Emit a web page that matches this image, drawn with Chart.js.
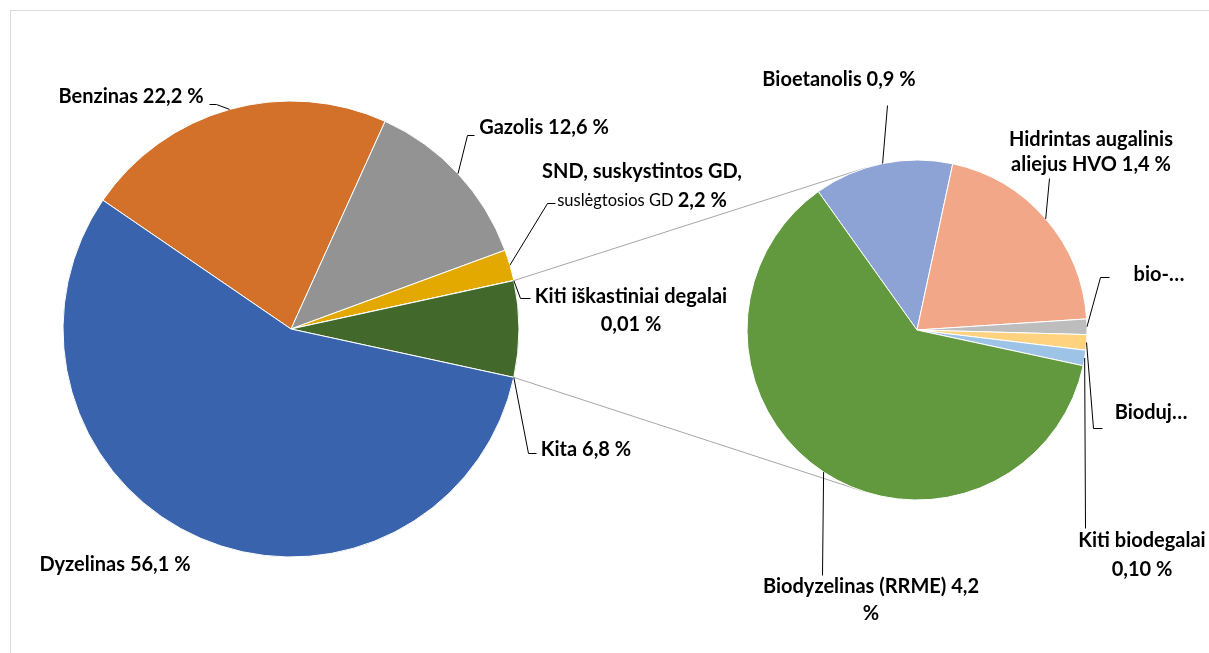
<!DOCTYPE html>
<html><head><meta charset="utf-8">
<script src="https://cdn.jsdelivr.net/npm/chart.js@4.4.0/dist/chart.umd.min.js"></script>
<style>
html,body{margin:0;padding:0;background:#fff;}
#wrap{position:relative;width:1209px;height:653px;overflow:hidden;background:#fff;}
#frame{position:absolute;left:10px;top:10px;width:1300px;height:700px;border:1px solid #D9D9D9;}
canvas{position:absolute;left:0;top:0;}
</style></head><body>
<div id="wrap"><div id="frame"></div>
<canvas id="c1" width="1209" height="653"></canvas>
<canvas id="c2" width="1209" height="653"></canvas>
</div>
<script>
// ---------- DATA ----------
const mainCategories = ['Benzinas', 'Gazolis', 'SND, suskystintos GD, suslėgtosios GD', 'Kiti iškastiniai degalai', 'Kita', 'Dyzelinas'];
const mainValues = [22.2, 12.6, 2.2, 0.01, 6.8, 56.1];
const subCategories = ['Bioetanolis', 'Hidrintas augalinis aliejus HVO', 'bio-...', 'Biodujos', 'Kiti biodegalai', 'Biodyzelinas (RRME)'];
const subValues = [0.9, 1.4, 0.1, 0.1, 0.1, 4.2];

// ---------- STYLE / LAYOUT ----------
const mainColors = ['#D3702A', '#939393', '#E3A900', '#264478', '#43682B', '#3A63AD'];
const subColors = ['#8EA3D5', '#F1A788', '#BDBDBD', '#FFD27F', '#9DC3E6', '#62993E'];
const FONT = 'Lato, "Open Sans", sans-serif';
const BOLD = '700 20px ' + FONT;
const REG = '400 16.5px ' + FONT;
const fmt = (v, d) => v.toFixed(d).replace('.', ',');

const mainLabels = [
  {lines: [[{t: 'Benzinas ' + fmt(mainValues[0], 1) + ' %', f: BOLD}]], x: 131, y: 97, anchor: 'mid', path: [[216, 104], [209, 104]]},
  {lines: [[{t: 'Gazolis ' + fmt(mainValues[1], 1) + ' %', f: BOLD}]], x: 544, y: 128, anchor: 'mid', path: [[467, 135], [474, 135]]},
  {lines: [[{t: 'SND, suskystintos GD,', f: BOLD}], [{t: 'suslėgtosios GD ', f: REG}, {t: fmt(mainValues[2], 1) + ' %', f: BOLD}]], x: 642, y: 172, lh: 29, anchor: 'mid', path: [[547, 203], [555, 203]]},
  {lines: [[{t: 'Kiti iškastiniai degalai', f: BOLD}], [{t: fmt(mainValues[3], 2) + ' %', f: BOLD}]], x: 631, y: 297, lh: 28, anchor: 'mid', path: [[520, 298], [530, 298]]},
  {lines: [[{t: 'Kita ' + fmt(mainValues[4], 1) + ' %', f: BOLD}]], x: 586, y: 450, anchor: 'end', path: [[528, 453], [536, 453]]},
  {lines: [[{t: 'Dyzelinas ' + fmt(mainValues[5], 1) + ' %', f: BOLD}]], x: 115, y: 565, anchor: null, path: []}
];
const subLabels = [
  {lines: [[{t: 'Bioetanolis ' + fmt(subValues[0], 1) + ' %', f: BOLD}]], x: 839, y: 80, anchor: 'mid', path: [[887, 105]]},
  {lines: [[{t: 'Hidrintas augalinis', f: BOLD}], [{t: 'aliejus HVO ' + fmt(subValues[1], 1) + ' %', f: BOLD}]], x: 1091, y: 140, lh: 25, anchor: 'mid', path: [[1049, 178]]},
  {lines: [[{t: 'bio-…', f: BOLD}]], x: 1159, y: 275, anchor: 'mid', path: [[1100, 277], [1109, 277]]},
  {lines: [[{t: 'Bioduj…', f: BOLD}]], x: 1151, y: 413, anchor: 'mid', path: [[1093, 428], [1102, 428]]},
  {lines: [[{t: 'Kiti biodegalai', f: BOLD}], [{t: fmt(subValues[4], 2) + ' %', f: BOLD}]], x: 1142, y: 541, lh: 29, anchor: 'mid', path: [[1085, 528]]},
  {lines: [[{t: 'Biodyzelinas (RRME) ' + fmt(subValues[5], 1), f: BOLD}], [{t: '%', f: BOLD}]], x: 871, y: 587, lh: 27, anchor: 'mid', path: [[822, 575]]}
];

const W = 1209, H = 653;
function padFor(cx, cy, r) {
  return {left: cx - r, right: W - cx - r, top: cy - r, bottom: H - cy - r};
}

function drawLabels(chart, labels) {
  const ctx = chart.ctx;
  const meta = chart.getDatasetMeta(0);
  ctx.save();
  ctx.strokeStyle = '#000';
  ctx.lineWidth = 1;
  labels.forEach((L, i) => {
    const arc = meta.data[i];
    if (L.anchor && L.path.length) {
      const a = L.anchor === 'mid' ? (arc.startAngle + arc.endAngle) / 2 : (L.anchor === 'end' ? arc.endAngle : arc.startAngle);
      const ax = arc.x + Math.cos(a) * arc.outerRadius;
      const ay = arc.y + Math.sin(a) * arc.outerRadius;
      ctx.beginPath();
      ctx.moveTo(ax, ay);
      L.path.forEach(p => ctx.lineTo(p[0] + 0.5, p[1] + 0.5));
      ctx.stroke();
    }
    ctx.fillStyle = '#000';
    ctx.textBaseline = 'middle';
    ctx.textAlign = 'left';
    L.lines.forEach((segs, li) => {
      let tw = 0;
      segs.forEach(s => { ctx.font = s.f; tw += ctx.measureText(s.t).width; });
      let x = L.x - tw / 2;
      const y = L.y + li * (L.lh || 0);
      segs.forEach(s => { ctx.font = s.f; ctx.fillText(s.t, x, y); x += ctx.measureText(s.t).width; });
    });
  });
  ctx.restore();
}

function rotationFor(values, idx) {
  const total = values.reduce((a, b) => a + b, 0);
  let cum = 0;
  for (let i = 0; i < idx; i++) cum += values[i];
  cum += values[idx] / 2;
  return 90 - cum / total * 360;
}

const c1 = new Chart(document.getElementById('c1'), {
  type: 'pie',
  data: {labels: mainCategories, datasets: [{data: mainValues, backgroundColor: mainColors, borderColor: '#fff', borderWidth: 1, hoverOffset: 0, radius: 228}]},
  options: {
    responsive: false, animation: false, events: [],
    rotation: rotationFor(mainValues, 4),
    layout: {padding: padFor(291, 329, 228)},
    plugins: {legend: {display: false}, tooltip: {enabled: false}}
  },
  plugins: [{id: 'lbl1', afterDraw: ch => drawLabels(ch, mainLabels)}]
});

const connectorPlugin = {
  id: 'conn',
  beforeDatasetsDraw(chart) {
    const ctx = chart.ctx;
    const big = c1.getDatasetMeta(0).data[4];
    const small = chart.getDatasetMeta(0).data[0];
    const C = {x: small.x, y: small.y}, r = small.outerRadius;
    function tangent(px, py, upper) {
      const dx = px - C.x, dy = py - C.y;
      const d = Math.hypot(dx, dy);
      const th = Math.atan2(dy, dx);
      const al = Math.acos(r / d);
      const p1 = {x: C.x + r * Math.cos(th + al), y: C.y + r * Math.sin(th + al)};
      const p2 = {x: C.x + r * Math.cos(th - al), y: C.y + r * Math.sin(th - al)};
      if (upper) return p1.y < p2.y ? p1 : p2;
      return p1.y > p2.y ? p1 : p2;
    }
    ctx.save();
    ctx.strokeStyle = '#A6A6A6';
    ctx.lineWidth = 1;
    [[big.startAngle, true], [big.endAngle, false]].forEach(([a, up]) => {
      const px = big.x + Math.cos(a) * big.outerRadius;
      const py = big.y + Math.sin(a) * big.outerRadius;
      const t = tangent(px, py, up);
      ctx.beginPath();
      ctx.moveTo(px, py);
      ctx.lineTo(t.x, t.y);
      ctx.stroke();
    });
    ctx.restore();
  },
  afterDraw: ch => drawLabels(ch, subLabels)
};

const c2 = new Chart(document.getElementById('c2'), {
  type: 'pie',
  data: {labels: subCategories, datasets: [{data: subValues, backgroundColor: subColors, borderColor: '#fff', borderWidth: 1, hoverOffset: 0, radius: 170}]},
  options: {
    responsive: false, animation: false, events: [],
    rotation: -35.5,
    layout: {padding: padFor(917, 330, 170)},
    plugins: {legend: {display: false}, tooltip: {enabled: false}}
  },
  plugins: [connectorPlugin]
});
</script>
</body></html>
